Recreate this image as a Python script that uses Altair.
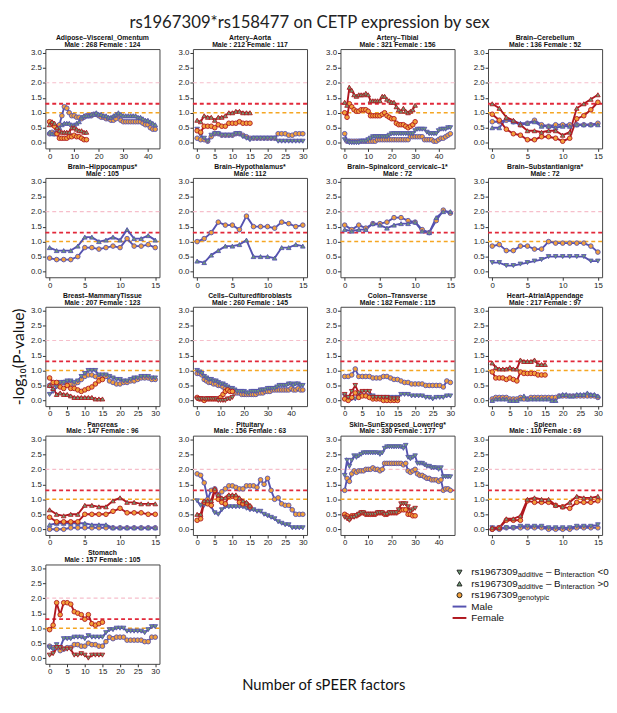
import altair as alt
import pandas as pd

# ---------------- text ----------------
TITLE = "rs1967309*rs158477 on CETP expression by sex"
Y_TITLE = "-log\u2081\u2080(P-value)"
X_TITLE = "Number of sPEER factors"

TISSUES = ["Adipose\u2013Visceral_Omentum", "Artery\u2013Aorta", "Artery\u2013Tibial", "Brain\u2013Cerebellum",
           "Brain\u2013Hippocampus*", "Brain\u2013Hypothalamus*", "Brain\u2013Spinalcord_cervicalc\u20131*",
           "Brain\u2013Substantianigra*", "Breast\u2013MammaryTissue", "Cells\u2013Culturedfibroblasts",
           "Colon\u2013Transverse", "Heart\u2013AtrialAppendage", "Pancreas", "Pituitary",
           "Skin\u2013SunExposed_Lowerleg*", "Spleen", "Stomach"]
MALE_N = [268, 212, 321, 136, 105, 112, 72, 72, 207, 260, 182, 217, 147, 156, 330, 110, 157]
FEMALE_N = [124, 117, 156, 52, 0, 0, 0, 0, 123, 145, 115, 97, 96, 63, 177, 69, 105]

MALE_ADD_DIR = ["up", "down", "down", "up", "up", "up", "up", "down", "down", "down", "down", "up",
                "up", "down", "down", "down", "down"]
FEMALE_ADD_DIR = ["up", "up", "up", "up", "", "", "", "", "up", "down", "down", "up", "up", "up",
                  "down", "up", "down"]

# ---------------- values (-log10 P) by number of sPEER factors ----------------
ADIPOSE_MG = [0.3, 0.35, 0.3, 0.45, 0.6, 0.9, 1.2, 1.15, 1.0, 0.9, 0.9, 0.85, 0.85, 0.8, 0.85, 0.9, 0.9, 0.9,
              0.95, 0.95, 0.9, 0.85, 0.85, 0.8, 0.8, 0.75, 0.75, 0.8, 0.9, 0.75, 0.7, 0.7, 0.7, 0.7, 0.7, 0.7,
              0.7, 0.7, 0.65, 0.6, 0.6, 0.5, 0.45, 0.45]
ADIPOSE_MA = [0.35, 0.3, 0.3, 0.35, 0.5, 0.6, 0.65, 0.65, 0.65, 0.6, 0.6, 0.65, 0.7, 0.85, 0.9, 0.9, 0.9, 0.95,
              0.95, 1.0, 0.95, 0.95, 0.9, 0.9, 0.85, 0.85, 0.9, 0.95, 1.0, 0.95, 0.9, 0.9, 0.9, 0.9, 0.9, 0.9,
              0.85, 0.85, 0.8, 0.75, 0.75, 0.7, 0.65, 0.6]
ADIPOSE_FG = [0.7, 0.65, 0.55, 0.3, 0.15, 0.15, 0.15, 0.15, 0.2, 0.2, 0.25, 0.2, 0.2, 0.15, 0.1, 0.1]
ADIPOSE_FA = [0.6, 0.7, 0.65, 0.5, 0.4, 0.35, 0.35, 0.35, 0.35, 0.5, 0.5, 0.45, 0.4, 0.4, 0.35, 0.35]

AORTA_MG = [0.15, 0.1, 0.1, 0.05, 0.2, 0.3, 0.3, 0.25, 0.25, 0.25, 0.25, 0.3, 0.3, 0.25, 0.2, 0.15, 0.15, 0.15,
            0.15, 0.15, 0.15, 0.15, 0.15, 0.3, 0.3, 0.3, 0.25, 0.25, 0.3, 0.3, 0.3]
AORTA_MA = [0.45, 0.25, 0.15, 0.05, 0.25, 0.3, 0.3, 0.25, 0.25, 0.25, 0.25, 0.3, 0.3, 0.2, 0.15, 0.1, 0.15, 0.15,
            0.15, 0.15, 0.15, 0.15, 0.15, 0.05, 0.05, 0.05, 0.05, 0.05, 0.05, 0.05, 0.05]
AORTA_FG = [0.4, 0.35, 0.55, 0.55, 0.55, 0.5, 0.6, 0.55, 0.55, 0.65, 0.65, 0.65, 0.7, 0.65, 0.65, 0.65]
AORTA_FA = [0.75, 0.7, 0.9, 0.85, 0.85, 0.75, 0.85, 0.85, 0.9, 1.0, 1.0, 1.05, 1.05, 1.0, 1.0, 1.0]

TIBIAL_MG = [0.3, 0.05, 0.05, 0.05, 0.05, 0.05, 0.05, 0.05, 0.05, 0.05, 0.05, 0.05, 0.05, 0.05, 0.1, 0.1, 0.1,
             0.1, 0.1, 0.1, 0.1, 0.1, 0.1, 0.1, 0.1, 0.1, 0.1, 0.1, 0.2, 0.2, 0.2, 0.2, 0.2, 0.2, 0.1, 0.1, 0.1,
             0.1, 0.05, 0.05, 0.1, 0.15, 0.15, 0.2, 0.25, 0.3]
TIBIAL_MA = [0.1, 0.05, 0.0, 0.0, 0.0, 0.0, 0.0, 0.05, 0.05, 0.05, 0.1, 0.15, 0.2, 0.2, 0.2, 0.2, 0.2, 0.2, 0.2,
             0.25, 0.3, 0.3, 0.3, 0.3, 0.3, 0.3, 0.3, 0.3, 0.3, 0.3, 0.4, 0.45, 0.45, 0.45, 0.45, 0.35, 0.3, 0.3,
             0.3, 0.3, 0.4, 0.45, 0.45, 0.45, 0.5, 0.5]
TIBIAL_FG = [1.0, 0.85, 1.3, 1.2, 1.1, 1.05, 1.05, 1.1, 1.1, 1.1, 1.05, 0.9, 0.9, 0.9, 0.9, 0.9, 0.95, 1.0, 0.9,
             0.85, 0.8, 0.8, 0.65, 0.6, 0.6, 0.6, 0.55, 0.5, 0.55, 0.6, 0.7]
TIBIAL_FA = [1.35, 1.25, 1.85, 1.75, 1.6, 1.55, 1.6, 1.6, 1.6, 1.65, 1.6, 1.4, 1.4, 1.4, 1.4, 1.4, 1.55, 1.55,
             1.45, 1.4, 1.35, 1.35, 1.2, 1.1, 1.05, 1.15, 1.05, 1.0, 1.05, 1.1, 1.25]

CEREB_MG = [0.7, 0.7, 0.75, 0.7, 0.6, 0.65, 0.75, 0.6, 0.55, 0.6, 0.6, 0.6, 0.6, 0.6, 0.6, 0.65]
CEREB_MA = [0.5, 0.5, 0.8, 0.7, 0.65, 0.65, 0.7, 0.55, 0.55, 0.5, 0.55, 0.55, 0.6, 0.6, 0.6, 0.6]
CEREB_FG = [0.95, 0.75, 0.45, 0.3, 0.25, 0.1, 0.1, 0.2, 0.2, 0.15, 0.05, 0.15, 0.8, 0.9, 1.1, 1.35]
CEREB_FA = [1.3, 1.15, 0.85, 0.75, 0.6, 0.4, 0.4, 0.35, 0.4, 0.4, 0.25, 0.35, 1.15, 1.3, 1.45, 1.6]

HIPPO_MG = [0.45, 0.4, 0.4, 0.4, 0.5, 0.8, 0.8, 0.75, 0.8, 0.85, 0.8, 1.1, 0.85, 0.85, 0.9, 0.8]
HIPPO_MA = [0.8, 0.7, 0.7, 0.7, 0.85, 1.15, 1.15, 1.0, 1.05, 1.15, 1.05, 1.4, 1.1, 1.1, 1.2, 1.05]

HYPO_MG = [1.0, 1.1, 1.3, 1.65, 1.55, 1.55, 1.4, 1.85, 1.5, 1.5, 1.5, 1.45, 1.65, 1.6, 1.5, 1.55]
HYPO_MA = [0.35, 0.3, 0.55, 0.7, 0.85, 0.85, 0.9, 1.05, 0.5, 0.5, 0.5, 0.45, 0.8, 0.8, 0.9, 0.85]

SPINAL_MG = [1.55, 1.4, 1.55, 1.45, 1.6, 1.6, 1.65, 1.8, 1.8, 1.7, 1.65, 1.4, 1.3, 1.7, 2.05, 1.95]
SPINAL_MA = [1.4, 1.35, 1.4, 1.4, 1.6, 1.55, 1.45, 1.55, 1.6, 1.6, 1.65, 1.35, 1.3, 1.8, 2.0, 2.0]

NIGRA_MG = [0.85, 0.9, 0.7, 0.7, 0.85, 0.85, 0.75, 0.75, 1.0, 0.95, 0.95, 0.95, 0.95, 0.95, 0.85, 0.65]
NIGRA_MA = [0.3, 0.3, 0.2, 0.2, 0.25, 0.3, 0.35, 0.4, 0.5, 0.5, 0.5, 0.5, 0.5, 0.5, 0.35, 0.35]

BREAST_MG = [0.5, 0.55, 0.5, 0.55, 0.6, 0.55, 0.55, 0.55, 0.6, 0.7, 0.8, 0.85, 0.85, 0.8, 0.75, 0.8, 0.8, 0.65,
             0.6, 0.55, 0.55, 0.6, 0.6, 0.65, 0.65, 0.7, 0.75, 0.75, 0.75, 0.7, 0.7]
BREAST_MA = [0.2, 0.3, 0.45, 0.6, 0.6, 0.65, 0.65, 0.6, 0.65, 0.8, 0.9, 1.0, 1.0, 1.0, 0.85, 0.85, 0.85, 0.8,
             0.75, 0.7, 0.7, 0.65, 0.65, 0.7, 0.75, 0.75, 0.8, 0.8, 0.8, 0.75, 0.75]
BREAST_FG = [0.75, 0.6, 0.6, 0.45, 0.4, 0.5, 0.4, 0.4, 0.35, 0.3, 0.35, 0.4, 0.45, 0.55, 0.65, 0.7]
BREAST_FA = [0.5, 0.4, 0.2, 0.25, 0.2, 0.2, 0.15, 0.1, 0.1, 0.1, 0.1, 0.1, 0.1, 0.05, 0.05, 0.05]

FIBRO_MG = [0.9, 0.9, 0.85, 0.7, 0.65, 0.6, 0.6, 0.55, 0.55, 0.5, 0.5, 0.45, 0.4, 0.35, 0.35, 0.3, 0.25, 0.25,
            0.25, 0.2, 0.2, 0.2, 0.2, 0.2, 0.2, 0.2, 0.25, 0.25, 0.25, 0.3, 0.3, 0.3, 0.35, 0.35, 0.35, 0.35,
            0.35, 0.35, 0.35, 0.35, 0.4, 0.35, 0.35, 0.4, 0.35, 0.35]
FIBRO_MA = [1.0, 0.95, 0.9, 0.8, 0.75, 0.7, 0.7, 0.65, 0.65, 0.6, 0.55, 0.55, 0.5, 0.45, 0.4, 0.4, 0.35, 0.3,
            0.3, 0.3, 0.3, 0.25, 0.25, 0.3, 0.3, 0.3, 0.3, 0.35, 0.35, 0.35, 0.4, 0.4, 0.4, 0.4, 0.45, 0.5, 0.5,
            0.5, 0.5, 0.55, 0.55, 0.5, 0.55, 0.55, 0.5, 0.5]
FIBRO_FG = [0.1, 0.05, 0.05, 0.0, 0.05, 0.05, 0.05, 0.05, 0.05, 0.05, 0.1, 0.2, 0.3, 0.35, 0.3, 0.3]
FIBRO_FA = [0.05, 0.05, 0.05, 0.05, 0.05, 0.05, 0.05, 0.05, 0.05, 0.0, 0.0, 0.0, 0.0, 0.05, 0.05, 0.1]

COLON_MG = [0.8, 0.8, 0.85, 1.05, 0.8, 0.8, 0.8, 0.8, 0.75, 0.75, 0.75, 0.8, 0.8, 0.75, 0.7, 0.7, 0.65, 0.6,
            0.6, 0.55, 0.55, 0.55, 0.55, 0.5, 0.5, 0.5, 0.5, 0.5, 0.45, 0.65, 0.6]
COLON_MA = [0.15, 0.05, 0.05, 0.05, 0.15, 0.15, 0.15, 0.15, 0.15, 0.1, 0.1, 0.1, 0.1, 0.1, 0.1, 0.1, 0.2, 0.2,
            0.2, 0.15, 0.15, 0.15, 0.15, 0.1, 0.1, 0.05, 0.1, 0.1, 0.1, 0.15, 0.15]
COLON_FG = [0.05, 0.0, 0.1, 0.25, 0.1, 0.15, 0.15, 0.1, 0.05, 0.05, 0.05, 0.0, 0.0, 0.0, 0.0, 0.0]
COLON_FA = [0.2, 0.1, 0.3, 0.5, 0.25, 0.3, 0.3, 0.3, 0.1, 0.1, 0.1, 0.1, 0.1, 0.05, 0.05, 0.05]

HEART_MG = [0.05, 0.1, 0.1, 0.1, 0.1, 0.05, 0.05, 0.05, 0.1, 0.05, 0.05, 0.1, 0.1, 0.1, 0.1, 0.1, 0.1, 0.1, 0.1,
            0.15, 0.15, 0.15, 0.15, 0.15, 0.15, 0.15, 0.15, 0.15, 0.15, 0.15, 0.1]
HEART_MA = [0.0, 0.05, 0.05, 0.05, 0.05, 0.0, 0.0, 0.0, 0.05, 0.15, 0.05, 0.05, 0.05, 0.05, 0.05, 0.05, 0.05,
            0.0, 0.0, 0.15, 0.2, 0.2, 0.15, 0.15, 0.2, 0.2, 0.2, 0.25, 0.2, 0.2, 0.15]
HEART_FG = [0.95, 0.75, 0.75, 0.75, 0.7, 0.75, 0.7, 0.65, 0.95, 0.9, 0.9, 0.9, 0.9, 0.85, 0.85, 0.85]
HEART_FA = [1.25, 1.1, 1.05, 1.05, 1.05, 1.1, 1.05, 1.05, 1.35, 1.3, 1.3, 1.3, 1.35, 1.2, 1.2, 1.2]

PANCREAS_MG = [0.0, 0.0, 0.0, 0.05, 0.05, 0.05, 0.05, 0.05, 0.05, 0.05, 0.05, 0.05, 0.05, 0.05, 0.05, 0.05]
PANCREAS_MA = [0.15, 0.2, 0.2, 0.2, 0.2, 0.2, 0.15, 0.15, 0.15, 0.05, 0.05, 0.05, 0.05, 0.05, 0.05, 0.05]
PANCREAS_FG = [0.4, 0.25, 0.25, 0.25, 0.25, 0.5, 0.5, 0.5, 0.5, 0.6, 0.7, 0.55, 0.55, 0.55, 0.5, 0.5]
PANCREAS_FA = [0.65, 0.5, 0.45, 0.5, 0.5, 0.8, 0.8, 0.75, 0.75, 0.95, 1.05, 0.9, 0.9, 0.85, 0.85, 0.85]

PITUIT_MG = [1.85, 1.8, 1.55, 1.0, 1.3, 1.35, 1.15, 1.25, 1.35, 1.45, 1.45, 1.4, 1.35, 1.35, 1.45, 1.45, 1.45,
             1.4, 1.65, 1.5, 1.7, 1.3, 1.0, 1.05, 0.85, 0.8, 0.8, 0.65, 0.5, 0.5, 0.5]
PITUIT_MA = [0.95, 0.8, 0.8, 0.9, 0.75, 0.55, 0.5, 0.65, 0.75, 0.75, 0.75, 0.75, 0.75, 0.75, 0.7, 0.65, 0.65,
             0.6, 0.6, 0.5, 0.45, 0.4, 0.35, 0.25, 0.2, 0.15, 0.15, 0.05, 0.05, 0.05, 0.05]
PITUIT_FG = [0.3, 0.35, 0.9, 0.85, 0.8, 1.3, 1.0, 0.9, 0.85, 1.1, 1.1, 1.05, 0.9, 0.85, 0.85, 0.75]
PITUIT_FA = [0.5, 0.5, 0.95, 0.95, 0.95, 1.35, 1.15, 1.05, 1.05, 1.15, 1.15, 1.15, 1.05, 0.95, 0.9, 0.8]

SKIN_MG = [1.3, 1.7, 1.6, 1.85, 1.95, 1.9, 1.95, 1.95, 1.95, 2.0, 2.0, 2.0, 2.05, 2.0, 2.0, 1.95, 2.0, 2.2, 2.2,
           2.2, 2.2, 2.2, 2.2, 2.2, 2.2, 2.15, 2.2, 1.95, 1.9, 1.95, 2.0, 1.85, 1.8, 1.8, 1.75, 1.7, 1.7, 1.65,
           1.65, 1.65, 1.6, 1.65, 1.3, 1.35, 1.35, 1.3]
SKIN_MA = [1.8, 2.3, 2.1, 2.3, 2.45, 2.4, 2.45, 2.5, 2.55, 2.55, 2.55, 2.55, 2.55, 2.55, 2.55, 2.5, 2.55, 2.7,
           2.75, 2.75, 2.75, 2.75, 2.75, 2.75, 2.75, 2.7, 2.8, 2.4, 2.35, 2.4, 2.45, 2.2, 2.2, 2.2, 2.15, 2.1, 2.1,
           2.05, 2.05, 2.05, 2.0, 2.05, 1.75, 1.75, 1.75, 1.75]
SKIN_FG = [0.5, 0.45, 0.35, 0.45, 0.45, 0.45, 0.5, 0.55, 0.55, 0.5, 0.5, 0.5, 0.5, 0.5, 0.55, 0.55, 0.55, 0.5,
           0.5, 0.55, 0.55, 0.55, 0.55, 0.6, 0.65, 0.65, 0.65, 0.5, 0.5, 0.45, 0.45]
SKIN_FA = [0.4, 0.35, 0.3, 0.4, 0.4, 0.45, 0.5, 0.55, 0.55, 0.5, 0.5, 0.5, 0.5, 0.5, 0.55, 0.55, 0.55, 0.5, 0.5,
           0.55, 0.55, 0.55, 0.55, 0.65, 0.85, 0.85, 0.85, 0.75, 0.6, 0.65, 0.7]

SPLEEN_MG = [0.0, 0.0, 0.05, 0.05, 0.05, 0.05, 0.05, 0.05, 0.0, 0.0, 0.0, 0.0, 0.05, 0.05, 0.05, 0.05]
SPLEEN_MA = [0.05, 0.05, 0.05, 0.05, 0.1, 0.1, 0.1, 0.1, 0.05, 0.05, 0.05, 0.05, 0.1, 0.1, 0.1, 0.15]
SPLEEN_FG = [0.0, 0.05, 0.3, 0.3, 0.3, 0.95, 0.9, 0.9, 0.9, 0.8, 0.75, 0.7, 0.9, 0.9, 0.9, 0.95]
SPLEEN_FA = [0.05, 0.05, 0.35, 0.35, 0.45, 1.0, 1.05, 1.0, 1.0, 0.8, 0.75, 0.9, 1.1, 1.05, 1.05, 1.1]

STOMACH_MG = [0.4, 0.35, 0.35, 0.25, 0.3, 0.35, 0.35, 0.45, 0.45, 0.4, 0.4, 0.5, 0.45, 0.45, 0.4, 0.4, 0.55,
              0.7, 0.65, 0.7, 0.7, 0.7, 0.6, 0.6, 0.6, 0.6, 0.6, 0.55, 0.55, 0.7, 0.7]
STOMACH_MA = [0.35, 0.3, 0.45, 0.35, 0.65, 0.65, 0.65, 0.7, 0.7, 0.7, 0.65, 0.75, 0.7, 0.7, 0.7, 0.7, 0.85,
              0.95, 0.95, 1.0, 1.0, 1.0, 0.9, 0.9, 0.9, 0.9, 0.9, 0.85, 0.95, 1.05, 1.05]
STOMACH_FG = [0.95, 1.1, 1.85, 1.45, 1.85, 1.85, 1.8, 1.55, 1.5, 1.45, 1.3, 1.45, 1.15, 1.1, 1.15, 1.2]
STOMACH_FA = [0.1, 0.15, 0.35, 0.35, 0.3, 0.3, 0.3, 0.1, 0.1, 0.15, 0.1, 0.0, 0.1, 0.1, 0.1, 0.1]

MALE_GENO = [ADIPOSE_MG, AORTA_MG, TIBIAL_MG, CEREB_MG, HIPPO_MG, HYPO_MG, SPINAL_MG, NIGRA_MG, BREAST_MG,
             FIBRO_MG, COLON_MG, HEART_MG, PANCREAS_MG, PITUIT_MG, SKIN_MG, SPLEEN_MG, STOMACH_MG]
MALE_ADD = [ADIPOSE_MA, AORTA_MA, TIBIAL_MA, CEREB_MA, HIPPO_MA, HYPO_MA, SPINAL_MA, NIGRA_MA, BREAST_MA,
            FIBRO_MA, COLON_MA, HEART_MA, PANCREAS_MA, PITUIT_MA, SKIN_MA, SPLEEN_MA, STOMACH_MA]
FEMALE_GENO = [ADIPOSE_FG, AORTA_FG, TIBIAL_FG, CEREB_FG, [], [], [], [], BREAST_FG, FIBRO_FG, COLON_FG,
               HEART_FG, PANCREAS_FG, PITUIT_FG, SKIN_FG, SPLEEN_FG, STOMACH_FG]
FEMALE_ADD = [ADIPOSE_FA, AORTA_FA, TIBIAL_FA, CEREB_FA, [], [], [], [], BREAST_FA, FIBRO_FA, COLON_FA,
              HEART_FA, PANCREAS_FA, PITUIT_FA, SKIN_FA, SPLEEN_FA, STOMACH_FA]

REF_LEVELS = [2.0, 1.3, 1.0]
REF_COLORS = ["#F6BFCB", "#E2283A", "#F5A623"]
REF_WIDTHS = [1.2, 1.8, 1.5]

# ---------------- style ----------------
MALE_C = "#5552B0"
FEMALE_C = "#B0171F"
CIRCLE_FILL = "#F2A03A"
TRI_FILL = "#6E9A74"
PW, PH = 116, 101
HS, VS = 34, 1
FONT = "Liberation Sans"

sex_scale = alt.Scale(domain=["Male", "Female"], range=[MALE_C, FEMALE_C])
kind_scale = alt.Scale(domain=["geno", "add"], range=[CIRCLE_FILL, TRI_FILL])


def make_panel(i, y_title=False):
    rows = []

    def add(vals, sex, kind, shape):
        for x, v in enumerate(vals):
            rows.append({"x": x, "y": v, "sex": sex, "kind": kind, "shape": shape, "series": sex + kind})

    add(MALE_GENO[i], "Male", "geno", "circle")
    add(MALE_ADD[i], "Male", "add", "triangle-" + MALE_ADD_DIR[i])
    if FEMALE_GENO[i]:
        add(FEMALE_GENO[i], "Female", "geno", "circle")
        add(FEMALE_ADD[i], "Female", "add", "triangle-" + FEMALE_ADD_DIR[i])
    df = pd.DataFrame(rows)
    n = len(MALE_GENO[i]) - 1
    if n <= 15:
        ticks = [0, 5, 10, 15]
    elif n <= 30:
        ticks = [0, 5, 10, 15, 20, 25, 30]
    else:
        ticks = [0, 10, 20, 30, 40]
    xs = alt.Scale(domain=[-0.04 * n, 1.04 * n], nice=False, zero=False)
    ys = alt.Scale(domain=[-0.19, 3.125], nice=False, zero=False)
    ykw = dict(values=[0, 0.5, 1, 1.5, 2, 2.5, 3], format=".1f")
    if y_title:
        ykw.update(title=Y_TITLE, titleFont="Lato", titleFontSize=16, titleFontWeight="normal",
                   titleColor="#111", titlePadding=4)
    else:
        ykw.update(title=None)
    yaxis = alt.Axis(**ykw)
    xaxis = alt.Axis(values=ticks, format="d", title=None, labelFlush=False)
    xenc = alt.X("x:Q", scale=xs, axis=xaxis)
    yenc = alt.Y("y:Q", scale=ys, axis=yaxis)

    layers = []
    for lvl, col, w in zip(REF_LEVELS, REF_COLORS, REF_WIDTHS):
        layers.append(alt.Chart(pd.DataFrame({"y": [lvl]})).mark_rule(
            color=col, strokeWidth=w, strokeDash=[4, 3]).encode(y=yenc))
    base = alt.Chart(df)
    layers.append(base.mark_line(strokeWidth=1.9).encode(
        x=xenc, y=yenc, detail="series:N",
        color=alt.Color("sex:N", scale=sex_scale, legend=None)))
    layers.append(base.mark_point(filled=True, size=22, strokeWidth=0.9, opacity=1).encode(
        x=xenc, y=yenc,
        shape=alt.Shape("shape:N", scale=None),
        fill=alt.Fill("kind:N", scale=kind_scale, legend=None),
        stroke=alt.Stroke("sex:N", scale=sex_scale, legend=None)))
    sub = "Male : %d" % MALE_N[i]
    if FEMALE_N[i]:
        sub += " Female : %d" % FEMALE_N[i]
    return alt.layer(*layers).properties(
        width=PW, height=PH,
        title=alt.Title(TISSUES[i], subtitle=sub, font=FONT, fontSize=7, fontWeight="bold",
                        subtitleFont=FONT, subtitleFontSize=7, subtitleFontWeight="bold",
                        subtitleColor="#111", color="#111", offset=1, subtitlePadding=0,
                        anchor="middle"))


# ---------------- legend ----------------
AW = {"r": 333, "s": 500, "a": 556, "d": 556, "i": 222, "t": 278, "v": 500, "e": 556, " ": 278,
      "\u2013": 556, "B": 667, "n": 556, "c": 500, "o": 556, "g": 556, "y": 500, "p": 556,
      "<": 584, ">": 584, "M": 833, "l": 222, "F": 611, "m": 833}


def text_width(s, size):
    return sum(AW.get(ch, 556) for ch in s) * size / 1000.0


MAIN_SIZE, SUB_SIZE = 10, 7.5
LEGEND_TEXT = [
    [("rs1967309", 0), ("additive", 1), (" \u2013 B", 0), ("interaction", 1), (" <0", 0)],
    [("rs1967309", 0), ("additive", 1), (" \u2013 B", 0), ("interaction", 1), (" >0", 0)],
    [("rs1967309", 0), ("genotypic", 1)],
    [("Male", 0)],
    [("Female", 0)],
]
seg_rows = []
for idx, segs in enumerate(LEGEND_TEXT):
    pos = 17.0
    for txt, is_sub in segs:
        size = SUB_SIZE if is_sub else MAIN_SIZE
        lead = len(txt) - len(txt.lstrip(" "))
        pos += lead * AW[" "] * size / 1000.0
        core = txt.lstrip(" ")
        seg_rows.append({"idx": idx, "tx": pos, "text": core, "sub": is_sub})
        pos += text_width(core, size)
seg_df = pd.DataFrame(seg_rows)
ly = alt.Y("idx:Q", scale=alt.Scale(domain=[-0.69, 6.21], reverse=True), axis=None)
icon_df = pd.DataFrame({"idx": [0, 1, 2], "shape": ["triangle-down", "triangle-up", "circle"],
                        "kind": ["add", "add", "geno"]})
line_df = pd.DataFrame({"idx": [3, 4], "sex": ["Male", "Female"]})
legend = alt.layer(
    alt.Chart(icon_df).mark_point(filled=True, size=26, stroke="#222", strokeWidth=1, opacity=1).encode(
        x=alt.value(5), y=ly, shape=alt.Shape("shape:N", scale=None),
        fill=alt.Fill("kind:N", scale=kind_scale, legend=None)),
    alt.Chart(line_df).mark_rule(strokeWidth=2).encode(
        x=alt.value(-2), x2=alt.value(12), y=ly,
        color=alt.Color("sex:N", scale=sex_scale, legend=None)),
    alt.Chart(seg_df[seg_df["sub"] == 0]).mark_text(
        align="left", baseline="middle", font=FONT, fontSize=MAIN_SIZE, color="#111").encode(
        x=alt.X("tx:Q", scale=None), y=ly, text="text:N"),
    alt.Chart(seg_df[seg_df["sub"] == 1]).mark_text(
        align="left", baseline="middle", font=FONT, fontSize=SUB_SIZE, dy=3, color="#111").encode(
        x=alt.X("tx:Q", scale=None), y=ly, text="text:N"),
).properties(width=150, height=80, view=alt.ViewBackground(stroke=None))

# ---------------- layout ----------------
GW = 4 * PW + 3 * HS
rows = []
for r in range(4):
    rows.append(alt.hconcat(*[make_panel(4 * r + c, y_title=(4 * r + c == 8)) for c in range(4)],
                            spacing=HS, bounds="flush"))
rows.append(alt.hconcat(make_panel(16), legend, spacing=300, bounds="flush"))

xtitle = alt.Chart(pd.DataFrame({"t": [X_TITLE]})).mark_text(
    font="Lato", fontSize=15, color="#111", baseline="middle").encode(
    text="t:N", x=alt.value(GW / 2), y=alt.value(8)).properties(
    width=GW, height=14, view=alt.ViewBackground(stroke=None))

chart = alt.vconcat(*rows, xtitle, spacing=VS).properties(
    padding={"left": 2, "top": 0, "right": 0, "bottom": 0},
    title=alt.Title(TITLE, font="Lato", fontSize=17, fontWeight="normal", color="#222",
                    anchor="middle", offset=2),
).configure_view(stroke="#444", strokeWidth=1).configure_axis(
    labelFont=FONT, labelFontSize=8, labelColor="#222", tickColor="#333", tickSize=3,
    domain=False, grid=False, labelPadding=1)

chart.save("out.html", embed_options={"renderer": "svg", "actions": False})
